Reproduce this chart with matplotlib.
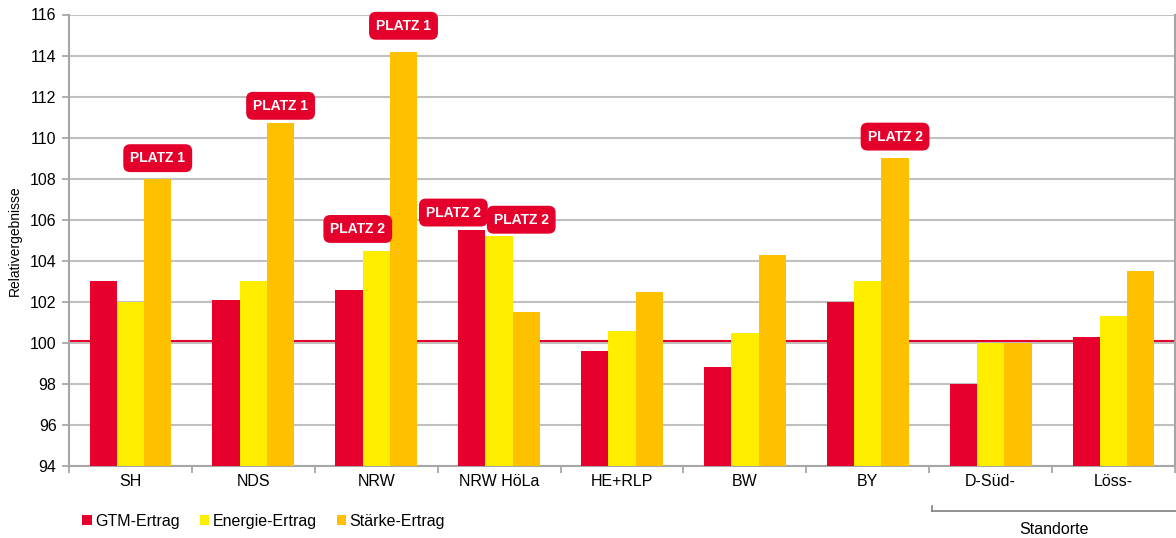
import matplotlib
matplotlib.use("Agg")
import matplotlib.pyplot as plt
import numpy as np

categories = ["SH", "NDS", "NRW", "NRW HöLa", "HE+RLP", "BW", "BY", "D-Süd-", "Löss-"]
gtm = [103.0, 102.1, 102.6, 105.5, 99.6, 98.8, 102.0, 98.0, 100.3]
energie = [102.0, 103.0, 104.5, 105.2, 100.6, 100.5, 103.0, 100.0, 101.3]
staerke = [108.0, 110.7, 114.15, 101.5, 102.5, 104.3, 109.0, 100.0, 103.5]
series_names = ["GTM-Ertrag", "Energie-Ertrag", "Stärke-Ertrag"]
colors = ["#E8002D", "#FFED00", "#FFC000"]
reference_value = 100.1
yticks = list(range(94, 117, 2))

# badges: (category index, series index, label)
badges = [(0, 2, "PLATZ 1"), (1, 2, "PLATZ 1"), (2, 2, "PLATZ 1"),
          (2, 1, "PLATZ 2"), (3, 0, "PLATZ 2"), (3, 1, "PLATZ 2"),
          (6, 2, "PLATZ 2")]
badge_dx = [0.0, 0.0, 0.0, -0.15, -0.15, 0.18, 0.0]
badge_dy = [1.0, 0.85, 1.3, 1.05, 0.85, 0.8, 1.05]

plt.rcParams['font.family'] = ['Liberation Sans', 'DejaVu Sans']

fig = plt.figure(figsize=(11.76, 5.38), dpi=100)
ax = fig.add_axes([69/1176, 1-466/538, (1175-69)/1176, (466-14.5)/538])

x = np.arange(len(categories))
w = 0.222
data = [gtm, energie, staerke]
for i, (vals, c, n) in enumerate(zip(data, colors, series_names)):
    ax.bar(x + (i-1)*w, np.array(vals) - 94, width=w, bottom=94, color=c,
           label=n, zorder=3, linewidth=0)

ax.set_xlim(-0.5, len(categories)-0.5)
ax.set_ylim(94, 116)
ax.set_yticks(yticks)
ax.yaxis.grid(True, color="#C0C0C0", linewidth=1.5, zorder=0)
ax.set_axisbelow(True)
ax.axhline(reference_value, color="#E8002D", linewidth=1.5, zorder=2)

ax.set_xticks(x)
ax.set_xticklabels(categories, fontsize=11.5)
ax.set_xticks(np.arange(len(categories)+1) - 0.5, minor=True)
ax.tick_params(axis='x', which='major', length=0, pad=6)
ax.tick_params(axis='x', which='minor', length=5, color="#A0A0A0", width=1.2)
ax.tick_params(axis='y', length=5, color="#A0A0A0", width=1.2, labelsize=11.5, pad=4)

for s in ax.spines.values():
    s.set_color("#A6A6A6")
    s.set_linewidth(1.5)
ax.spines['top'].set_visible(False)

ax.set_ylabel("Relativergebnisse", fontsize=10, labelpad=6)

for (ci, si, lab), dx, dy in zip(badges, badge_dx, badge_dy):
    val = data[si][ci]
    ax.text(ci + (si-1)*w + dx, val + dy, lab, ha='center', va='center',
            color='white', fontsize=10, fontweight='bold',
            bbox=dict(boxstyle="round,pad=0.5,rounding_size=0.5",
                      fc="#E4002B", ec="none"), zorder=5)

leg = fig.legend(loc='lower left', bbox_to_anchor=(76/1176, 0.005), ncol=3,
                 frameon=False, fontsize=11.5, handlelength=0.6, handleheight=0.6,
                 handletextpad=0.2, columnspacing=1.25, borderaxespad=0)

# Standorte bracket
fig.add_artist(plt.Line2D([932/1176, 1176/1176], [1-511/538, 1-511/538],
                          color="#808080", linewidth=1.2))
fig.add_artist(plt.Line2D([932/1176, 932/1176], [1-511/538, 1-506/538],
                          color="#808080", linewidth=1.2))
fig.text(1054/1176, 1-529/538, "Standorte", ha='center', va='center', fontsize=11.5)

fig.savefig("out.png", dpi=100)
